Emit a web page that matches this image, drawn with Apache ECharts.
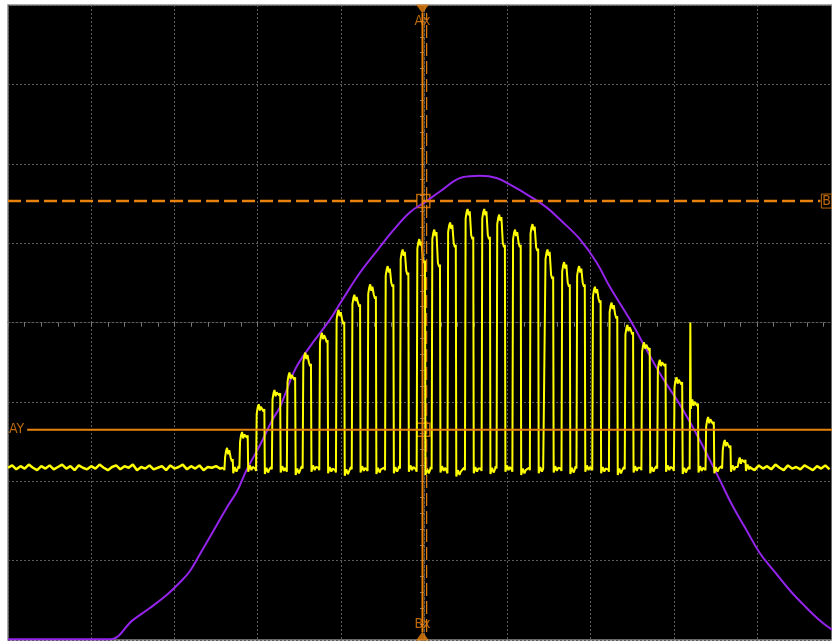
<!DOCTYPE html>
<html>
<head>
<meta charset="utf-8">
<script src="https://cdn.jsdelivr.net/npm/echarts@6/dist/echarts.min.js"></script>
<style>
  html, body { margin: 0; padding: 0; background: #fff; }
  #scope { width: 832px; height: 644px; }
</style>
</head>
<body>
<div id="scope"></div>
<script>
// Purple trace (divisions, centre of screen = 0,0)
const gaussX = [-5.00,-3.78,-3.50,-3.30,-3.09,-2.94,-2.82,-2.70,-2.54,-2.37,-2.25,-2.13,-1.97,-1.82,-1.73,-1.55,-1.37,-1.13,-0.98,-0.77,-0.57,-0.38,-0.17,0.03,0.19,0.46,0.67,0.87,1.06,1.27,1.47,1.66,1.87,2.07,2.23,2.47,2.67,2.86,3.07,3.31,3.55,3.70,3.87,4.03,4.21,4.39,4.57,4.75,4.90];
const gaussY = [-3.99,-3.99,-3.75,-3.60,-3.43,-3.28,-3.14,-2.93,-2.64,-2.33,-2.13,-1.85,-1.54,-1.22,-1.06,-0.59,-0.30,0.04,0.29,0.63,0.90,1.15,1.39,1.53,1.65,1.83,1.85,1.82,1.72,1.59,1.45,1.27,1.05,0.76,0.45,0.04,-0.34,-0.69,-1.03,-1.48,-1.98,-2.30,-2.61,-2.90,-3.14,-3.37,-3.57,-3.75,-3.87];

// Yellow pulse train
const pulseStart = [-2.40,-2.22,-2.02,-1.83,-1.65,-1.46,-1.26,-1.06,-0.87,-0.68,-0.47,-0.29,-0.09,0.09,0.28,0.49,0.69,0.87,1.06,1.27,1.45,1.65,1.83,2.02,2.22,2.41,2.61,2.80,3.00,3.19,3.38,3.58,3.76];
const pulseTop = [-1.58,-1.38,-1.03,-0.85,-0.63,-0.38,-0.13,0.16,0.35,0.48,0.71,0.92,1.05,1.17,1.26,1.43,1.43,1.36,1.17,1.24,0.92,0.76,0.71,0.45,0.25,-0.03,-0.25,-0.47,-0.69,-0.97,-1.19,-1.48,-1.70];
const pulseTail = [-1.75,-1.45,-1.12,-0.92,-0.72,-0.55,-0.25,-0.02,0.20,0.30,0.45,0.60,0.75,0.70,0.95,1.05,1.05,0.95,0.95,0.90,0.55,0.45,0.45,0.25,0.05,-0.15,-0.35,-0.55,-0.78,-1.05,-1.28,-1.58,-1.76];
const pulseLow = [-1.86,-1.84,-1.87,-1.85,-1.88,-1.84,-1.86,-1.89,-1.85,-1.87,-1.86,-1.84,-1.88,-1.85,-1.90,-1.86,-1.87,-1.84,-1.88,-1.86,-1.85,-1.87,-1.84,-1.86,-1.88,-1.85,-1.86,-1.84,-1.87,-1.85,-1.86,-1.84,-1.83];
const pulseSpike = {29: 0.0};
const baseStep = 0.05;
const baseLeftStart = -5.0;
const baseLeft = [-1.83,-1.80,-1.85,-1.81,-1.84,-1.79,-1.83,-1.86,-1.81,-1.84,-1.80,-1.85,-1.82,-1.79,-1.84,-1.81,-1.86,-1.80,-1.83,-1.85,-1.81,-1.84,-1.79,-1.83,-1.86,-1.82,
                  -1.80,-1.85,-1.81,-1.83,-1.79,-1.86,-1.82,-1.84,-1.80,-1.85,-1.83,-1.81,-1.86,-1.80,-1.84,-1.82,-1.79,-1.85,-1.81,-1.84,-1.80,-1.86,-1.82,-1.83,-1.81,-1.84];
const baseRightStart = 3.92;
const baseRight = [-1.82,-1.86,-1.80,-1.84,-1.81,-1.85,-1.79,-1.83,-1.86,-1.80,-1.84,-1.82,-1.85,-1.80,-1.83,-1.86,-1.81,-1.84,-1.80,-1.85];

// cursors
const cursorAx = -0.02, cursorBx = 0.03;
const cursorAy = -1.35, cursorBy = 1.53;

const ORANGE = '#e8820c';
const GRIDGRAY = '#5c5c5c';

function buildPulses() {
    const pts = [];
    pulseStart.forEach((r, i) => {
        const top = pulseTop[i], tail = pulseTail[i], low = pulseLow[i];
        const first = pulseSpike[i] !== undefined ? pulseSpike[i] : top - 0.12;
        pts.push([r - 0.01, low + 0.03]);
        pts.push([r, low]);
        pts.push([r + 0.008, first]);
        if (pulseSpike[i] !== undefined) pts.push([r + 0.014, top - 0.12]);
        pts.push([r + 0.02, top - 0.04]);
        pts.push([r + 0.032, top]);
        pts.push([r + 0.045, top - 0.08]);
        pts.push([r + 0.058, top - 0.03]);
        pts.push([r + 0.075, tail + 0.05]);
        pts.push([r + 0.09, tail]);
        pts.push([r + 0.1, tail + 0.03]);
        pts.push([r + 0.106, low - 0.04]);
        pts.push([r + 0.125, low + 0.04]);
        pts.push([r + 0.145, low - 0.02]);
        pts.push([r + 0.16, low + 0.02]);
    });
    return pts;
}

const chart = echarts.init(document.getElementById('scope'));

const tickAxis = (inside, withLine) => ({
    type: 'value', min: -5, max: 4.9, interval: 1,
    axisLabel: { show: false },
    splitLine: { show: withLine, lineStyle: { color: GRIDGRAY, type: [2, 2], width: 1 } },
    axisLine: { show: withLine, onZero: true, lineStyle: { color: GRIDGRAY, type: [2, 2] } },
    axisTick: { show: true, inside: inside, length: 4, lineStyle: { color: '#777' } },
    minorTick: { show: true, splitNumber: 5, length: 4, lineStyle: { color: '#777' } }
});

const tickYAxis = (inside, withLine) => ({
    type: 'value', min: -4, max: 4, interval: 1,
    axisLabel: { show: false },
    splitLine: { show: withLine, lineStyle: { color: GRIDGRAY, type: [2, 2], width: 1 } },
    axisLine: { show: withLine, onZero: true, lineStyle: { color: GRIDGRAY, type: [2, 2] } },
    axisTick: { show: true, inside: inside, length: 4, lineStyle: { color: '#777' } },
    minorTick: { show: true, splitNumber: 5, length: 4, lineStyle: { color: '#777' } }
});

const labelFont = { color: ORANGE, fontSize: 14, fontFamily: 'DejaVu Sans Condensed' };

const option = {
    backgroundColor: '#ffffff',
    animation: false,
    grid: {
        left: 8, right: -1, top: 5, bottom: 4,
        show: true, backgroundColor: '#000000',
        borderColor: '#8c8c8c', borderWidth: 1.5
    },
    xAxis: [tickAxis(false, true), tickAxis(true, false)],
    yAxis: [tickYAxis(false, true), tickYAxis(true, false)],
    series: [
        {
            name: 'purple', type: 'line', showSymbol: false, silent: true, smooth: 0.4,
            data: gaussX.map((x, i) => [x, gaussY[i]]),
            lineStyle: { color: '#9524ec', width: 2 }
        },
        {
            name: 'yellow base L', type: 'line', showSymbol: false, silent: true,
            data: baseLeft.map((v, i) => [baseLeftStart + i * baseStep, v]).concat([[pulseStart[0] - 0.01, pulseLow[0] + 0.03]]),
            lineStyle: { color: '#ffff00', width: 2.5 }
        },
        {
            name: 'yellow', type: 'line', showSymbol: false, silent: true,
            data: buildPulses(),
            lineStyle: { color: '#ffff00', width: 2 }
        },
        {
            name: 'yellow base R', type: 'line', showSymbol: false, silent: true,
            data: [[pulseStart[pulseStart.length - 1] + 0.16, pulseLow[pulseLow.length - 1]]].concat(baseRight.map((v, i) => [baseRightStart + i * baseStep, v])),
            lineStyle: { color: '#ffff00', width: 2.5 }
        },
        {
            name: 'By', type: 'line', showSymbol: false, silent: true,
            data: [[-5, cursorBy], [4.76, cursorBy]],
            lineStyle: { color: ORANGE, width: 2.5, type: [13, 5] }
        },
        {
            name: 'Ay', type: 'line', showSymbol: false, silent: true,
            data: [[-4.77, cursorAy], [4.9, cursorAy]],
            lineStyle: { color: ORANGE, width: 2 }
        },
        {
            name: 'Ax', type: 'line', showSymbol: false, silent: true,
            data: [[cursorAx, -3.9], [cursorAx, 3.9]],
            lineStyle: { color: ORANGE, width: 2 }
        },
        {
            name: 'Bx', type: 'line', showSymbol: false, silent: true,
            data: [[cursorBx, -3.9], [cursorBx, 3.9]],
            lineStyle: { color: ORANGE, width: 1.2, type: [13, 5] }
        },
        {
            name: 'boxes', type: 'scatter', silent: true,
            symbol: 'rect', symbolSize: 13,
            itemStyle: { color: 'rgba(0,0,0,0)', borderColor: ORANGE, borderWidth: 1.5 },
            data: [[cursorAx + 0.01, cursorBy], [cursorAx + 0.01, cursorAy]]
        },
        {
            name: 'markers', type: 'scatter', silent: true, clip: false,
            symbol: 'triangle', symbolSize: [13, 9],
            itemStyle: { color: ORANGE },
            data: [
                { value: [cursorAx, 4], symbolRotate: 180, symbolOffset: [0, 4],
                  label: { show: true, position: 'bottom', distance: 1, formatter: 'Ax', ...labelFont } },
                { value: [cursorAx, -4], symbolOffset: [0, -4],
                  label: { show: true, position: 'top', distance: 0, formatter: 'Bx', ...labelFont } }
            ]
        },
        {
            name: 'tags', type: 'scatter', silent: true, clip: false,
            symbolSize: 0,
            data: [
                { value: [-5, cursorAy],
                  label: { show: true, position: 'right', distance: 1, formatter: 'AY', ...labelFont } },
                { value: [4.9, cursorBy],
                  label: { show: true, position: 'left', distance: 0, formatter: 'B', ...labelFont,
                           borderColor: ORANGE, borderWidth: 1, padding: [0, 1] } }
            ]
        }
    ]
};

chart.setOption(option);
</script>
</body>
</html>
